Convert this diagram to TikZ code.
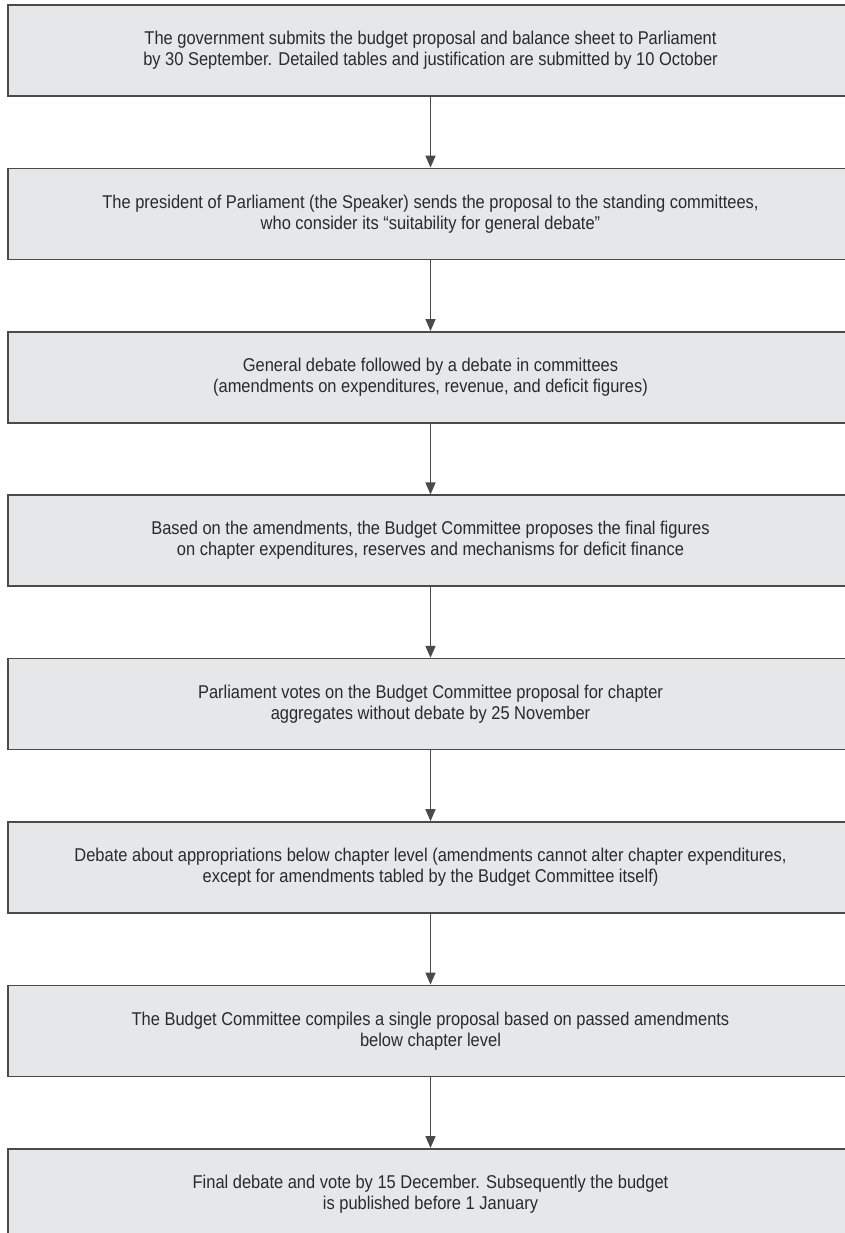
\documentclass[tikz,border=0pt]{standalone}
\usepackage{fontspec}
\setmainfont{Liberation Sans}[FakeStretch=0.89]
\usetikzlibrary{arrows.meta}
\definecolor{boxfill}{HTML}{E6E7E9}
\definecolor{boxline}{HTML}{4A4A4A}
\definecolor{txt}{HTML}{2A2A2A}
\tikzset{
  stepbox/.style={draw=boxline, line width=1.6pt, fill=boxfill, rectangle,
    minimum width=845pt, minimum height=91pt, inner sep=0pt,
    align=center, text=txt, font=\fontsize{18.5pt}{21pt}\selectfont},
  flow/.style={draw=boxline, line width=1.6pt, -{Triangle[length=12pt,width=10pt]}}
}
\begin{document}
\begin{tikzpicture}[x=1pt,y=1pt]
\clip (0,0) rectangle (845,-1233);
\useasboundingbox (0,0) rectangle (845,-1233);
\node[stepbox] (b1) at (430.5,{-(5+0*163.4+45.5)}) {The government submits the budget proposal and balance sheet to Parliament\\by 30 September. Detailed tables and justification are submitted by 10 October};
\node[stepbox] (b2) at (430.5,{-(5+1*163.4+45.5)}) {The president of Parliament (the Speaker) sends the proposal to the standing committees,\\who consider its “suitability for general debate”};
\node[stepbox] (b3) at (430.5,{-(5+2*163.4+45.5)}) {General debate followed by a debate in committees\\(amendments on expenditures, revenue, and deficit figures)};
\node[stepbox] (b4) at (430.5,{-(5+3*163.4+45.5)}) {Based on the amendments, the Budget Committee proposes the final figures\\on chapter expenditures, reserves and mechanisms for deficit finance};
\node[stepbox] (b5) at (430.5,{-(5+4*163.4+45.5)}) {Parliament votes on the Budget Committee proposal for chapter\\aggregates without debate by 25 November};
\node[stepbox] (b6) at (430.5,{-(5+5*163.4+45.5)}) {Debate about appropriations below chapter level (amendments cannot alter chapter expenditures,\\except for amendments tabled by the Budget Committee itself)};
\node[stepbox] (b7) at (430.5,{-(5+6*163.4+45.5)}) {The Budget Committee compiles a single proposal based on passed amendments\\below chapter level};
\node[stepbox] (b8) at (430.5,{-(5+7*163.4+45.5)}) {Final debate and vote by 15 December. Subsequently the budget\\is published before 1 January};
\foreach \a/\b in {b1/b2,b2/b3,b3/b4,b4/b5,b5/b6,b6/b7,b7/b8}
  \draw[flow] (\a.south) -- (\b.north);
\end{tikzpicture}
\end{document}
